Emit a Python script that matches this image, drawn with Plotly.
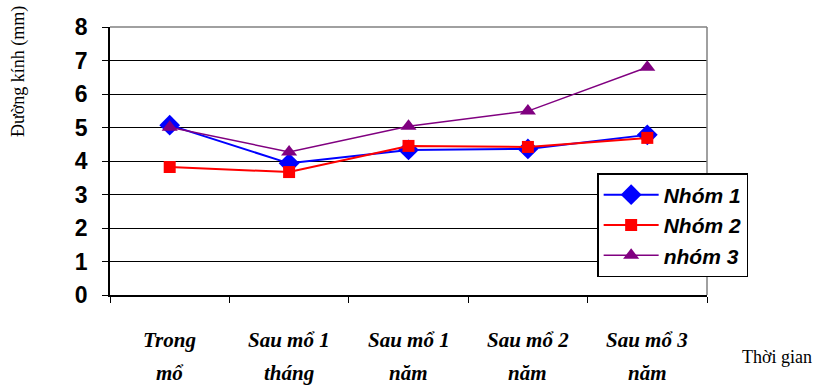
import plotly.graph_objects as go

categories = ["Trong<br>mổ", "Sau mổ 1<br>tháng", "Sau mổ 1<br>năm", "Sau mổ 2<br>năm", "Sau mổ 3<br>năm"]
nhom1 = [5.07, 3.93, 4.33, 4.36, 4.78]
nhom2 = [3.82, 3.67, 4.45, 4.42, 4.69]
nhom3 = [5.01, 4.27, 5.04, 5.49, 6.80]
series_names = ["Nhóm 1", "Nhóm 2", "nhóm 3"]
y_ticks = [0, 1, 2, 3, 4, 5, 6, 7, 8]

fig = go.Figure()
fig.add_trace(go.Scatter(x=categories, y=nhom1, name=series_names[0], mode="lines+markers",
                         legendgroup="a",
                         line=dict(color="#0000FF", width=2),
                         marker=dict(symbol="diamond", size=16, color="#0000FF")))
fig.add_trace(go.Scatter(x=categories, y=nhom2, name=series_names[1], mode="lines+markers",
                         legendgroup="b",
                         line=dict(color="#FF0000", width=2),
                         marker=dict(symbol="square", size=12, color="#FF0000")))
fig.add_trace(go.Scatter(x=categories, y=nhom3, name=series_names[2], mode="lines+markers",
                         legendgroup="c",
                         line=dict(color="#800080", width=1.5),
                         marker=dict(symbol="triangle-up", size=14, color="#800080")))

serif = "Liberation Serif, Times New Roman"
sans = "Liberation Sans, Arial"

annotations = [
    dict(text="Đường kính (mm)", xref="paper", yref="paper", x=-0.154, y=0.832,
         textangle=-90, showarrow=False, xanchor="center", yanchor="middle",
         font=dict(family=serif, size=18, color="black")),
    dict(text="Thời gian", xref="paper", yref="paper", x=1.117, y=-0.231,
         showarrow=False, xanchor="center", yanchor="middle",
         font=dict(family=serif, size=18, color="black")),
]
for cat in categories:
    lines = cat.split("<br>")
    for i, ln in enumerate(lines):
        annotations.append(dict(
            text=ln, xref="x", yref="paper", x=cat, y=[-0.168, -0.291][i],
            showarrow=False, xanchor="center", yanchor="middle",
            font=dict(family=serif, size=21, color="black", weight="bold", style="italic")))

fig.update_layout(
    width=818, height=388,
    margin=dict(l=110, r=111, t=27, b=93),
    plot_bgcolor="white", paper_bgcolor="white",
    showlegend=True,
    legend=dict(x=0.816, y=0.455, xanchor="left", yanchor="top",
                bordercolor="black", borderwidth=1.5, bgcolor="white",
                font=dict(family=sans, size=21, color="black",
                          weight="bold", style="italic"),
                tracegroupgap=0, itemwidth=55),
    xaxis=dict(
        type="category", range=[-0.5, 4.5],
        showline=True, linecolor="black", linewidth=1.5,
        ticks="outside", tickson="boundaries", ticklen=6, tickcolor="black",
        showgrid=False, showticklabels=False,
    ),
    yaxis=dict(
        range=[0, 8], tickvals=y_ticks,
        showline=True, linecolor="black", linewidth=1.5,
        ticks="outside", ticklen=6, tickcolor="black",
        showgrid=True, gridcolor="black", gridwidth=1,
        zeroline=False, ticklabelstandoff=10,
        tickfont=dict(family=sans, size=23, color="black", weight="bold"),
    ),
    shapes=[
        dict(type="line", xref="paper", yref="paper", x0=0, x1=1, y0=1, y1=1,
             line=dict(color="#808080", width=1.5)),
        dict(type="line", xref="paper", yref="paper", x0=1, x1=1, y0=0, y1=1,
             line=dict(color="#808080", width=1.5)),
    ],
    annotations=annotations,
)

fig.write_html("out.html", config={"displayModeBar": False},
               post_script="document.body.style.margin='0';document.body.style.overflow='hidden';")
